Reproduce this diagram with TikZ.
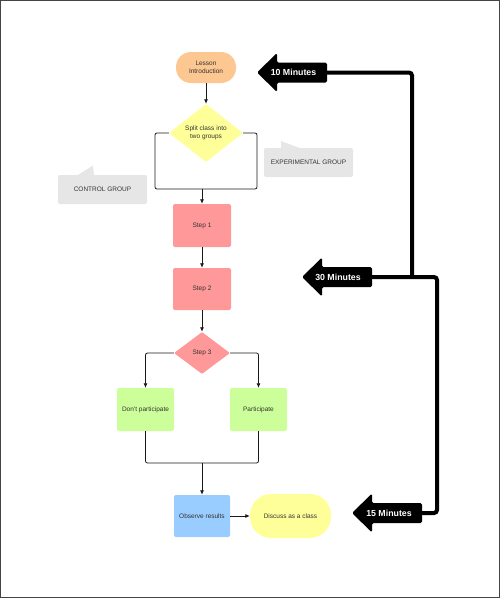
\documentclass[tikz,border=0pt]{standalone}
\usepackage{fontspec}
\setmainfont{Liberation Sans}
\usetikzlibrary{shapes.geometric,arrows.meta}
\definecolor{peach}{HTML}{FDC791}
\definecolor{lyellow}{HTML}{FFFF99}
\definecolor{lred}{HTML}{FF9999}
\definecolor{lgreen}{HTML}{CCFF99}
\definecolor{lblue}{HTML}{99CCFF}
\definecolor{callgray}{HTML}{E6E6E6}
\definecolor{txt}{HTML}{333333}
\definecolor{framecol}{HTML}{444444}
\newcommand\bigarrowshape[2]{%
  \fill[black, rounded corners=1.5pt] (#1,#2) -- (#1+20,#2-19.5) -- (#1+20,#2-10) -- (#1+70,#2-10) -- (#1+70,#2+10) -- (#1+20,#2+10) -- (#1+20,#2+19.5) -- cycle;}
\begin{document}
\begin{tikzpicture}[x=1pt,y=-1pt,
  base/.style={font=\fontsize{6.5}{7.8}\selectfont, text=txt, inner sep=0pt, align=center},
  box/.style n args={2}{base, rectangle, rounded corners=2pt, minimum width=#1, minimum height=#2},
  pill/.style n args={3}{base, rectangle, rounded corners=#3, minimum width=#1, minimum height=#2},
  dia/.style n args={2}{base, diamond, aspect=1.3, rounded corners=1pt, minimum width=#1, minimum height=#2},
  callout/.style={base, fill=callgray, rounded corners=2pt, minimum width=89, minimum height=29},
  conn/.style={draw=black!90, line width=0.8pt, rounded corners=2pt},
  arr/.style={conn, -{Latex[length=4.5pt,width=4pt]}},
  fat/.style={draw=black, line width=4pt, rounded corners=3pt},
  arrtext/.style={font=\bfseries\fontsize{8.8}{10}\selectfont, text=white, inner sep=0pt}]
\useasboundingbox (0,0) rectangle (500,598);
\draw[framecol, line width=1.2pt] (0.6,0.6) rectangle (499.4,597.4);

% callouts
\fill[callgray] (77,175.5) -- (93,165.5) -- (94,175.5) -- cycle;
\node[callout] (ctrl) at (102.5,189.5) {CONTROL GROUP};
\fill[callgray] (281,148.5) -- (281,141) -- (301,148.5) -- cycle;
\node[callout] (expt) at (308.5,162.5) {EXPERIMENTAL GROUP};

% flow nodes
\node[pill={60}{31}{15pt}, fill=peach] (intro) at (206,67.5) {Lesson\\Introduction};
\node[dia={74}{58}, fill=lyellow] (split) at (206,133) {Split class into\\two groups};
\node[box={58}{43}, fill=lred] (step1) at (202,225.5) {Step 1};
\node[box={58}{42}, fill=lred] (step2) at (202,289) {Step 2};
\node[dia={56}{42}, fill=lred] (step3) at (202,353) {Step 3};
\node[box={57}{43}, fill=lgreen] (dont) at (145.5,409.5) {Don't participate};
\node[box={57}{43}, fill=lgreen] (part) at (258.5,409.5) {Participate};
\node[box={56}{42}, fill=lblue] (obs) at (202,516) {Observe results};
\node[pill={81}{44}{21pt}, fill=lyellow] (disc) at (290.5,516) {Discuss as a class};

% connectors
\coordinate (jl) at (155,189);
\coordinate (jr) at (257,189);
\coordinate (j1) at (202,189);
\coordinate (jm) at (202,463);
\draw[arr] (intro) -- (split);
\draw[conn] (split.west) -| (jl) -- (jr) |- (split.east);
\draw[arr] (j1) -- (step1.north);
\draw[arr] (step1) -- (step2);
\draw[arr] (step2) -- (step3);
\draw[arr] (step3.west) -| (dont.north);
\draw[arr] (step3.east) -| (part.north);
\draw[conn] (dont.south) |- (jm) -| (part.south);
\draw[arr] (jm) -- (obs.north);
\draw[arr] (obs) -- (disc);

% time arrows
\bigarrowshape{257}{72.5}
\bigarrowshape{302}{277}
\bigarrowshape{352}{513}
\node[arrtext] (a10) at (293.5,72.5) {10 Minutes};
\node[arrtext] (a30) at (338,277) {30 Minutes};
\node[arrtext] (a15) at (389,513) {15 Minutes};
\coordinate (t10) at (326,72.5);
\coordinate (t30) at (371,277);
\coordinate (t15) at (421,513);
\coordinate (j30) at (412,277);
\coordinate (r15) at (437,513);
\draw[fat] (t10) -| (j30);
\draw[fat] (t30) -| (r15) -- (t15);
\end{tikzpicture}
\end{document}
